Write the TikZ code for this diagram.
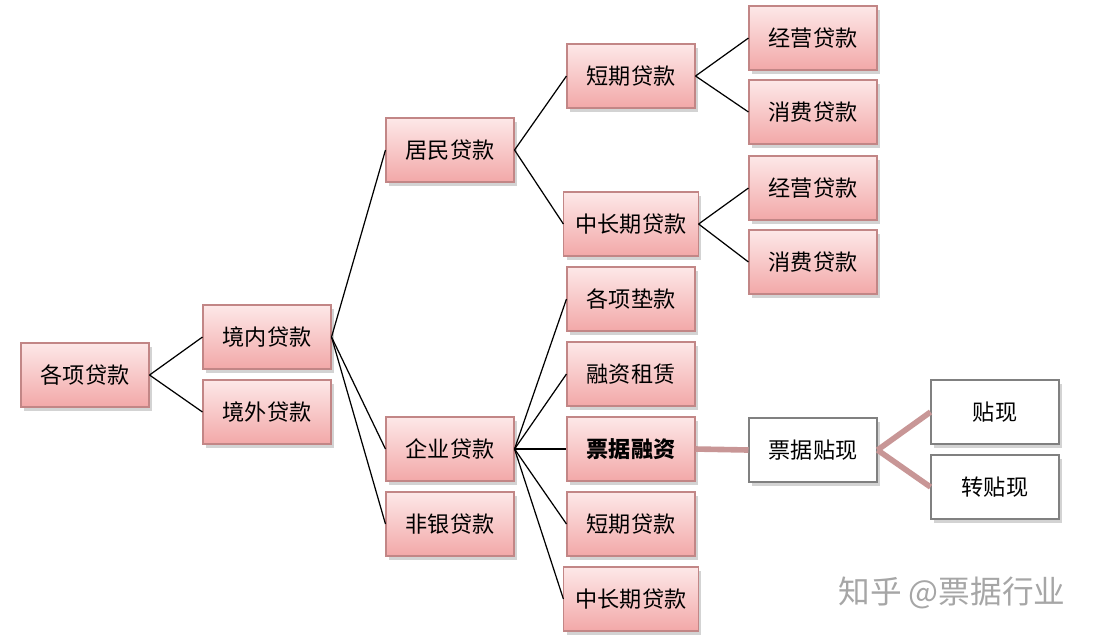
\documentclass[tikz,border=0pt]{standalone}
\usepackage{fontspec}
\setmainfont{Noto Sans CJK SC}
\usetikzlibrary{shadows}
\definecolor{rosa}{RGB}{242,168,168}
\definecolor{rosahell}{RGB}{253,232,232}
\definecolor{linie}{RGB}{200,150,150}
\tikzset{
    box/.style={draw=rosa!80!black, line width=0.3pt, minimum width=1.28cm, minimum height=0.64cm,
        top color=rosahell, bottom color=rosa, drop shadow={shadow xshift=0.3mm, shadow yshift=-0.4mm, opacity=0.35},
        font=\fontsize{6.3}{7}\selectfont},
    weissbox/.style={box, top color=white, bottom color=white, draw=gray},
    ast/.style={draw=black, line width=0.35pt},
    dickast/.style={draw=linie, line width=1.6pt}
}
\begin{document}
\begin{tikzpicture}[x=0.1mm, y=-0.1mm]
    \useasboundingbox (0,0) rectangle (1099,639);

    \node[box] (gesamt) at (85,375) {各项贷款};
    \node[box] (inland) at (267,337) {境内贷款};
    \node[box] (ausland) at (267,412) {境外贷款};

    \node[box] (haushalt) at (450,150) {居民贷款};
    \node[box] (firma) at (450,449) {企业贷款};
    \node[box] (nichtbank) at (450,524) {非银贷款};

    \node[box] (hkurz) at (631,76) {短期贷款};
    \node[box] (hlang) at (631,224) {中长期贷款};
    \node[box] (vorschuss) at (631,299) {各项垫款};
    \node[box] (leasing) at (631,374) {融资租赁};
    \node[box, font=\fontsize{6.3}{7}\selectfont\bfseries] (wechsel) at (631,449) {票据融资};
    \node[box] (fkurz) at (631,524) {短期贷款};
    \node[box] (flang) at (631,599) {中长期贷款};

    \node[box] (kbetrieb) at (813,38) {经营贷款};
    \node[box] (kkonsum) at (813,112) {消费贷款};
    \node[box] (lbetrieb) at (813,188) {经营贷款};
    \node[box] (lkonsum) at (813,262) {消费贷款};

    \node[weissbox] (diskont) at (813,450) {票据贴现};
    \node[weissbox] (tiexian) at (995,412) {贴现};
    \node[weissbox] (zhuan) at (995,487) {转贴现};

    % Verbindungen
    \foreach \a/\b in {gesamt/inland, gesamt/ausland, inland/haushalt, inland/firma, inland/nichtbank,
        haushalt/hkurz, haushalt/hlang, firma/vorschuss, firma/leasing, firma/wechsel, firma/fkurz, firma/flang,
        hkurz/kbetrieb, hkurz/kkonsum, hlang/lbetrieb, hlang/lkonsum}
        \draw[ast] (\a.east) -- (\b.west);
    \draw[dickast] (wechsel.east) -- (diskont.west);
    \draw[dickast] (diskont.east) -- (tiexian.west);
    \draw[dickast] (diskont.east) -- (zhuan.west);

    \node[text=gray!70, font=\fontsize{9}{10}\selectfont] (marke) at (952,593) {知乎 @票据行业};
\end{tikzpicture}
\end{document}
